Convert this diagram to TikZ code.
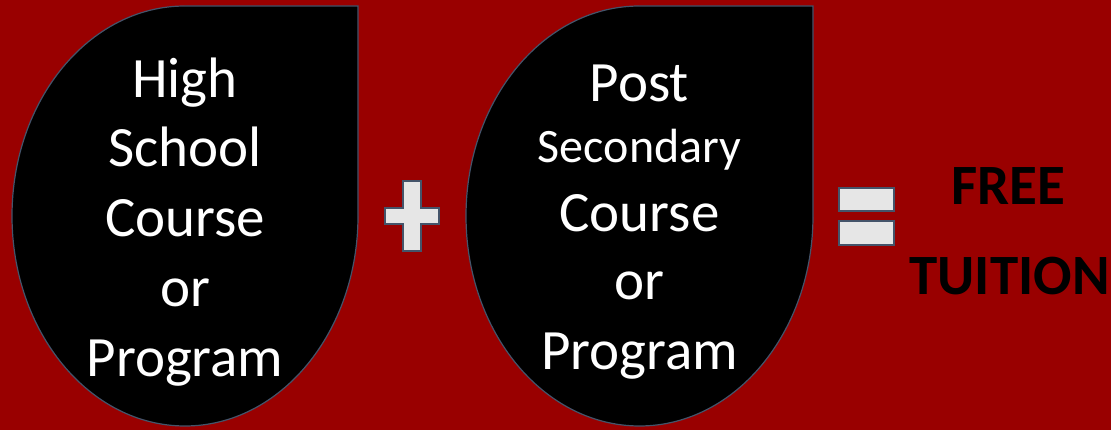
\documentclass[tikz,border=0pt]{standalone}
\usepackage{fontspec}
\setmainfont{Carlito}
\definecolor{bgred}{HTML}{990000}
\definecolor{slate}{HTML}{44546A}
\definecolor{signgray}{HTML}{E6E6E6}
\begin{document}
\begin{tikzpicture}[
  x=1pt, y=1pt,
  drop/.style={draw=slate, line width=1.2pt, fill=black},
  sign/.style={draw=slate, line width=2pt, fill=signgray},
  big_text/.style={text=white, font=\fontsize{57}{68}\selectfont, inner sep=0pt, anchor=base},
  small_text/.style={text=white, font=\fontsize{48}{56}\selectfont, inner sep=0pt, anchor=base},
  result_text/.style={text=black, font=\fontsize{57}{68}\selectfont\bfseries, inner sep=0pt, anchor=base}
]
% background
\fill[bgred] (0,0) rectangle (1111,430);
\useasboundingbox (0,0) rectangle (1111,430);

% Teardrops
\draw[drop] (185,424) -- (358,424) -- (358,214)
  arc[start angle=0, end angle=-270, x radius=173, y radius=210] -- cycle;
\draw[drop] (639.5,424) -- (813,424) -- (813,214)
  arc[start angle=0, end angle=-270, x radius=173.5, y radius=210] -- cycle;

% High school text
\foreach \t/\y [count=\i] in {High/98, School/167, Course/237, or/307, Program/377}
  \node[big_text] (hs\i) at (185,430-\y) {\t};

% Post secondary text
\node[big_text] (ps1) at (639.5,430-102) {Post};
\node[small_text] (ps2) at (639.5,430-163) {Secondary};
\node[big_text] (ps3) at (639.5,430-232) {Course};
\node[big_text] (ps4) at (639.5,430-300) {or};
\node[big_text] (ps5) at (639.5,430-370) {Program};

% Plus sign
\draw[sign] (403,249) -- (421,249) -- (421,222) -- (439,222) -- (439,206)
  -- (421,206) -- (421,179) -- (403,179) -- (403,206) -- (385,206)
  -- (385,222) -- (403,222) -- cycle;

% Equals sign
\draw[sign] (839,219) rectangle (894,242);
\draw[sign] (839,185) rectangle (894,209);

% Result
\node[result_text] (free) at (1008,430-205) {FREE};
\node[result_text] (tuition) at (1009.5,430-295) {TUITION};
\end{tikzpicture}
\end{document}
